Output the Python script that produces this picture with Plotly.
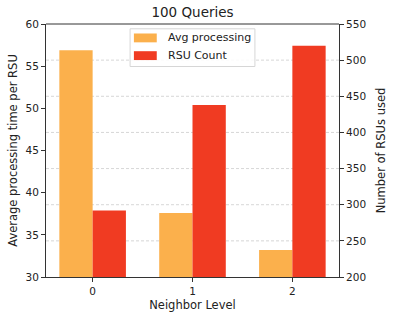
import plotly.graph_objects as go

# Neighbor levels and per-level measurements
levels = [0, 1, 2]
avg_processing = [56.9, 37.6, 33.2]   # average processing time per RSU
rsu_count = [292, 438, 520]           # number of RSUs used

left_ticks = [30, 35, 40, 45, 50, 55, 60]
right_ticks = [200, 250, 300, 350, 400, 450, 500, 550]
series_names = ["Avg processing", "RSU Count"]

ORANGE = "#FBB04C"
RED = "#F03B22"
FONT = "DejaVu Sans"
TXT = "#222222"
bar_w = 1 / 3

fig = go.Figure()
fig.add_trace(go.Bar(
    x=levels, y=avg_processing, name=series_names[0],
    width=bar_w, offset=-bar_w, marker=dict(color=ORANGE, line=dict(width=0)),
    yaxis="y", showlegend=False,
))
fig.add_trace(go.Bar(
    x=levels, y=rsu_count, name=series_names[1],
    width=bar_w, offset=0, marker=dict(color=RED, line=dict(width=0)),
    yaxis="y2", showlegend=False,
))

axis_common = dict(
    showline=True, linecolor="#333333", linewidth=1, mirror=False,
    ticks="outside", ticklen=4, tickcolor="#333333", tickwidth=1,
    tickfont=dict(family=FONT, size=10.5, color=TXT),
    zeroline=False, showgrid=False,
)
title_font = dict(family=FONT, size=11.5, color=TXT)

fig.update_layout(
    width=397, height=322,
    margin=dict(l=46, r=44, t=24, b=42),
    paper_bgcolor="white", plot_bgcolor="white",
    font=dict(family=FONT, color=TXT),
    title=dict(text="100 Queries", x=0.5, xref="paper", xanchor="center",
               y=1 - 12 / 322, yanchor="middle",
               font=dict(family=FONT, size=13.5, color=TXT)),
    barmode="overlay",
    showlegend=False,
    xaxis=dict(
        **axis_common,
        range=[-0.467, 2.467], tickvals=levels, ticktext=[str(v) for v in levels],
        title=dict(text="Neighbor Level", standoff=5, font=title_font),
    ),
    yaxis=dict(
        **axis_common,
        range=[30, 60], tickvals=left_ticks,
        title=dict(text="Average processing time per RSU", standoff=5, font=title_font),
    ),
    yaxis2=dict(
        **axis_common,
        overlaying="y", side="right", anchor="x",
        range=[200, 550], tickvals=right_ticks,
        title=dict(text="Number of RSUs used", standoff=11, font=title_font),
    ),
)

# Dashed horizontal grid at the right-axis ticks, kept beneath the bars
for v in right_ticks[1:-1]:
    fig.add_shape(type="line", xref="paper", yref="y2", x0=0, x1=1, y0=v, y1=v,
                  layer="below", line=dict(color="#c4c4c4", width=0.7, dash="3px,2px"))

# Top spine to close the frame
fig.add_shape(type="line", xref="paper", yref="paper", x0=0, x1=1, y0=1, y1=1,
              line=dict(color="#333333", width=1))

# Legend box with wide colour patches
fig.add_shape(type="rect", xref="paper", yref="paper", x0=0.287, x1=0.713,
              y0=0.832, y1=0.981, layer="above",
              fillcolor="rgba(255,255,255,0.85)", line=dict(color="#d6d6d6", width=1))
rows_y = [0.945, 0.875]
for name, color, ry in zip(series_names, [ORANGE, RED], rows_y):
    fig.add_shape(type="rect", xref="paper", yref="paper", x0=0.300, x1=0.378,
                  y0=ry - 0.0175, y1=ry + 0.0175, layer="above",
                  fillcolor=color, line=dict(width=0))
    fig.add_annotation(xref="paper", yref="paper", x=0.408, y=ry, text=name,
                       showarrow=False, xanchor="left", yanchor="middle",
                       font=dict(family=FONT, size=11, color=TXT))

fig.write_html("out.html")
